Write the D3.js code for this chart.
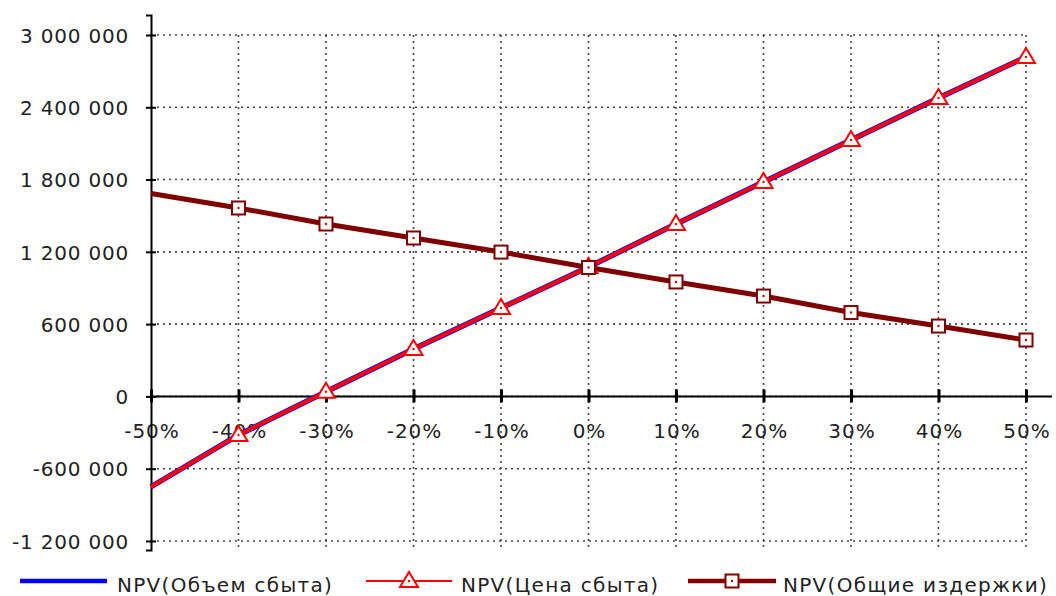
<!DOCTYPE html>
<html>
<head>
<meta charset="utf-8">
<script src="https://cdn.jsdelivr.net/npm/d3@7"></script>
<style>
  html, body { margin: 0; padding: 0; background: #fff; }
  svg { display: block; }
  text { font-family: "DejaVu Sans", sans-serif; fill: #222; }
</style>
</head>
<body>
<svg id="chart" width="1056" height="596"></svg>
<script>
// ---- data ----
const xValues = [-50, -40, -30, -20, -10, 0, 10, 20, 30, 40, 50];
const xLabels = ["-50%", "-40%", "-30%", "-20%", "-10%", "0%", "10%", "20%", "30%", "40%", "50%"];
const npvVolume = [-750000, -320000, 39000, 393000, 734000, 1074000, 1431000, 1780000, 2128000, 2477000, 2817000];
const npvPrice  = [-750000, -320000, 39000, 393000, 734000, 1074000, 1431000, 1780000, 2128000, 2477000, 2817000];
const npvCosts  = [1685000, 1564000, 1431000, 1315000, 1198000, 1070000, 950000, 833000, 696000, 584000, 468000];
const yTicks = [-1200000, -600000, 0, 600000, 1200000, 1800000, 2400000, 3000000];
const yTickLabels = ["-1 200 000", "-600 000", "0", "600 000", "1 200 000", "1 800 000", "2 400 000", "3 000 000"];
const seriesNames = ["NPV(Объем сбыта)", "NPV(Цена сбыта)", "NPV(Общие издержки)"];
const colors = ["#0000ff", "#ff0000", "#800000"];

// ---- scales ----
const svg = d3.select("#chart");
const x = d3.scaleLinear().domain([-50, 50]).range([151, 1026]);
const y = d3.scaleLinear().domain([-1275000, 3166000]).range([550, 15]);

// ---- grid ----
const grid = svg.append("g");
grid.selectAll("line.h").data(yTicks).join("line")
  .attr("x1", x(-50)).attr("x2", x(50))
  .attr("y1", d => y(d)).attr("y2", d => y(d))
  .attr("stroke", "#444").attr("stroke-width", 1.6).attr("stroke-dasharray", "2,4");
grid.selectAll("line.v").data(xValues.slice(1)).join("line")
  .attr("x1", d => x(d)).attr("x2", d => x(d))
  .attr("y1", y(3000000)).attr("y2", y(-1275000))
  .attr("stroke", "#444").attr("stroke-width", 1.6).attr("stroke-dasharray", "2,4");

// ---- x axis (at zero) ----
svg.append("line")
  .attr("x1", x(-50)).attr("x2", 1052)
  .attr("y1", y(0)).attr("y2", y(0))
  .attr("stroke", "#000").attr("stroke-width", 2);
const xAxis = d3.axisBottom(x).tickValues(xValues).tickFormat((d, i) => xLabels[i])
  .tickSizeOuter(0).tickSize(6);
const gx = svg.append("g").attr("transform", `translate(0,${y(0)})`).call(xAxis);
gx.select(".domain").remove();
gx.selectAll(".tick line").attr("y1", -7).attr("y2", 6).attr("stroke", "#000").attr("stroke-width", 3);
gx.selectAll(".tick text").attr("y", 42).attr("dy", 0).attr("dx", 0.5)
  .style("font-family", "DejaVu Sans, sans-serif").style("font-size", "20px")
  .style("letter-spacing", "1px").attr("fill", "#222");

// ---- y axis ----
const yAxis = d3.axisLeft(y).tickValues(yTicks).tickFormat((d, i) => yTickLabels[i])
  .tickSizeOuter(0).tickSize(5);
const gy = svg.append("g").attr("transform", `translate(${x(-50)},0)`).call(yAxis);
gy.select(".domain").attr("stroke", "#000").attr("stroke-width", 2);
gy.selectAll(".tick line").attr("x1", -5).attr("x2", 5).attr("stroke", "#000").attr("stroke-width", 2);
gy.selectAll(".tick text").attr("x", -22).attr("dy", "0.36em")
  .style("font-family", "DejaVu Sans, sans-serif").style("font-size", "20px")
  .style("letter-spacing", "0.8px").attr("fill", "#222");

// ---- lines ----
const line = d3.line().x((d, i) => x(xValues[i])).y(d => y(d));
svg.append("path").datum(npvVolume).attr("d", line)
  .attr("fill", "none").attr("stroke", colors[0]).attr("stroke-width", 5.5);
svg.append("path").datum(npvPrice).attr("d", line)
  .attr("fill", "none").attr("stroke", colors[1]).attr("stroke-width", 4);
svg.append("path").datum(npvCosts).attr("d", line)
  .attr("fill", "none").attr("stroke", colors[2]).attr("stroke-width", 5);

// ---- markers (none on the first point) ----
const triPath = "M0,-9L9,6L-9,6Z";
function triangle(g) {
  g.append("path").attr("d", triPath).attr("fill", "#fff").attr("stroke", colors[1]).attr("stroke-width", 2);
  g.append("circle").attr("r", 1.2).attr("fill", colors[1]);
}
function square(g) {
  g.append("rect").attr("x", -6.5).attr("y", -6.5).attr("width", 13).attr("height", 13)
    .attr("fill", "#fff").attr("stroke", colors[2]).attr("stroke-width", 2);
  g.append("circle").attr("r", 1.2).attr("fill", "#d00000");
}
const idx = xValues.map((d, i) => i).slice(1);
svg.append("g").selectAll("g").data(idx).join("g")
  .attr("transform", i => `translate(${x(xValues[i])},${y(npvPrice[i])})`)
  .each(function () { triangle(d3.select(this)); });
svg.append("g").selectAll("g").data(idx).join("g")
  .attr("transform", i => `translate(${x(xValues[i])},${y(npvCosts[i])})`)
  .each(function () { square(d3.select(this)); });

// ---- legend ----
const legendY = 581;
const leg = svg.append("g");
function legendText(xp, s) {
  leg.append("text").attr("x", xp).attr("y", 592)
    .style("font-size", "20px").style("letter-spacing", "1.3px").text(s);
}
leg.append("line").attr("x1", 20).attr("x2", 107).attr("y1", legendY).attr("y2", legendY)
  .attr("stroke", colors[0]).attr("stroke-width", 4.5);
legendText(117, seriesNames[0]);

leg.append("line").attr("x1", 366).attr("x2", 452).attr("y1", legendY).attr("y2", legendY)
  .attr("stroke", colors[1]).attr("stroke-width", 2);
triangle(leg.append("g").attr("transform", `translate(409,${legendY})`));
legendText(461, seriesNames[1]);

leg.append("line").attr("x1", 688).attr("x2", 776).attr("y1", legendY).attr("y2", legendY)
  .attr("stroke", colors[2]).attr("stroke-width", 4.5);
square(leg.append("g").attr("transform", `translate(732,${legendY})`));
legendText(783, seriesNames[2]);
</script>
</body>
</html>
